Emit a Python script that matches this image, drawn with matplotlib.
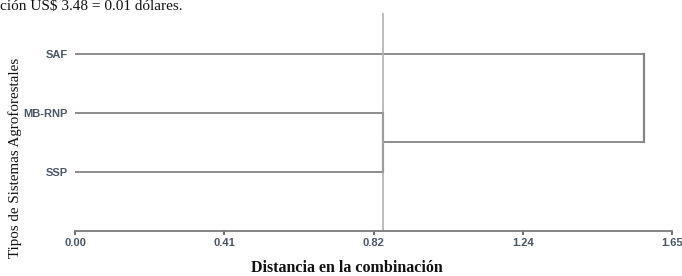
import matplotlib
matplotlib.use("Agg")
import matplotlib.pyplot as plt
import numpy as np

# Data
leaf_labels = ["SAF", "MB-RNP", "SSP"]
leaf_pos = [3, 2, 1]
merge_heights = [0.85, 1.573]   # MB-RNP+SSP, then with SAF
cut_distance = 0.852
tick_values = [0.0, 0.4125, 0.825, 1.2375, 1.65]
tick_labels = ["0.00", "0.41", "0.82", "1.24", "1.65"]

W, H = 682, 276
fig = plt.figure(figsize=(W / 100, H / 100), dpi=100)

left, right = 75 / W, 672 / W
bottom, top = 1 - 231 / H, 1 - 13 / H
ax = fig.add_axes([left, bottom, right - left, top - bottom])

lc = "#858585"
lw = 1.3
y_mb, y_ssp, y_saf = leaf_pos[1], leaf_pos[2], leaf_pos[0]
h1, h2 = merge_heights
ax.plot([0, h1], [y_mb, y_mb], color=lc, lw=lw, solid_capstyle="butt")
ax.plot([0, h1], [y_ssp, y_ssp], color=lc, lw=lw, solid_capstyle="butt")
ax.plot([h1, h1], [y_ssp, y_mb], color="#3a3a3a", lw=lw + 0.2)
ymid = (y_mb + y_ssp) / 2
ax.plot([h1, h2], [ymid, ymid], color=lc, lw=lw, solid_capstyle="butt")
ax.plot([0, h2], [y_saf, y_saf], color=lc, lw=lw, solid_capstyle="butt")
ax.plot([h2, h2], [ymid, y_saf], color=lc, lw=lw + 0.3)

ax.axvline(cut_distance, color="#b0b0b0", lw=1.2)

ax.set_xlim(0, 1.65)
ax.set_ylim(0, 3.69)
for s in ["top", "right", "left"]:
    ax.spines[s].set_visible(False)
ax.spines["bottom"].set_color("#7a7a7a")
ax.spines["bottom"].set_linewidth(1.3)
ax.spines["bottom"].set_bounds(0, 1.65)

ax.set_xticks(tick_values)
ax.set_xticklabels(tick_labels)
ax.tick_params(axis="x", length=3, width=1.2, color="#555555", pad=2,
               labelsize=8, labelcolor="#4a5566")
ax.set_yticks(leaf_pos)
ax.set_yticklabels(leaf_labels)
ax.tick_params(axis="y", length=0, pad=5, labelsize=8, labelcolor="#4a5566")
for t in ax.get_xticklabels() + ax.get_yticklabels():
    t.set_fontfamily("Liberation Sans")
    t.set_fontweight("bold")

fig.text(347 / W, 1 - 268 / H, "Distancia en la combinación",
         ha="center", va="center", fontsize=11.5, fontweight="bold",
         family="Liberation Serif", color="#111111")
fig.text(15 / W, 1 - 158 / H, "Tipos de Sistemas Agroforestales",
         ha="center", va="center", rotation=90, fontsize=10.8,
         family="Liberation Serif", color="#111111")
fig.text(0, 1.0, "ción US$ 3.48 = 0.01 dólares.",
         ha="left", va="top", fontsize=11, family="Liberation Serif",
         color="#111111")

fig.savefig("out.png", dpi=100)
